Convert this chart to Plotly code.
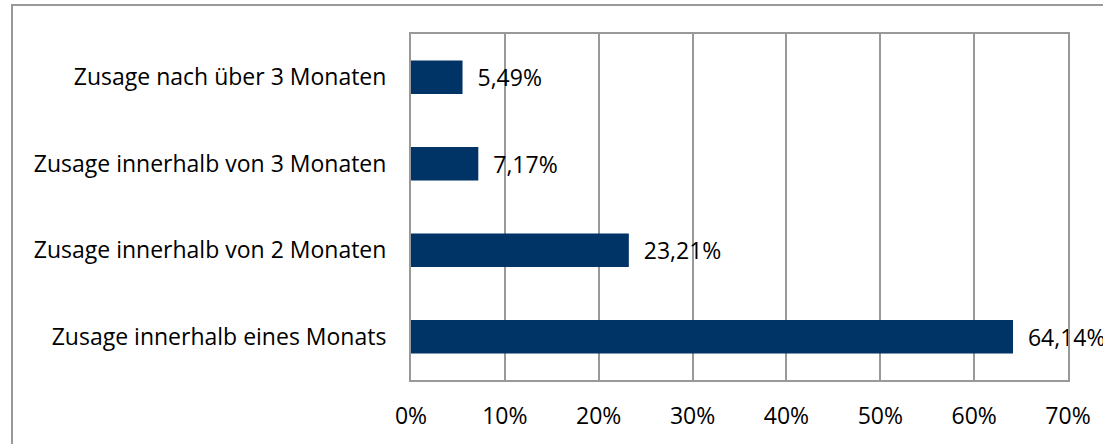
import plotly.graph_objects as go

categories = [
    "Zusage innerhalb eines Monats",
    "Zusage innerhalb von 2 Monaten",
    "Zusage innerhalb von 3 Monaten",
    "Zusage nach über 3 Monaten",
]
values = [64.14, 23.21, 7.17, 5.49]
tick_vals = [0, 10, 20, 30, 40, 50, 60, 70]
tick_text = ["0%", "10%", "20%", "30%", "40%", "50%", "60%", "70%"]

FONT = "Open Sans"
FS = 23
W, H = 1103, 444
L, R, T, B = 411, 1068, 34, 380
pw, ph = R - L, B - T

fig = go.Figure(go.Bar(
    y=categories, x=values, orientation="h",
    marker=dict(color="#003366", line=dict(width=0)),
    width=0.39,
    text=[f"  {v:.2f}%".replace(".", ",") for v in values],
    textposition="outside", cliponaxis=False,
    textfont=dict(family=FONT, size=FS, color="#000000"),
    hoverinfo="skip",
))

fig.update_layout(
    width=W, height=H,
    margin=dict(l=L, r=W - R, t=T, b=H - B, pad=0),
    paper_bgcolor="white", plot_bgcolor="white",
    showlegend=False,
    font=dict(family=FONT, size=FS, color="#000000"),
    xaxis=dict(range=[0, 70], tickvals=tick_vals, ticktext=tick_text,
               showgrid=True, gridcolor="#999999", gridwidth=1.5,
               zeroline=False, showline=True, linecolor="#999999", linewidth=2,
               mirror=True, ticks="", ticklabelstandoff=14,
               tickfont=dict(family=FONT, size=FS)),
    yaxis=dict(showgrid=False, zeroline=False, showline=True,
               linecolor="#999999", linewidth=2, mirror=True,
               ticks="", ticklabelstandoff=18,
               tickfont=dict(family=FONT, size=FS)),
    bargap=0.61,
)

# outer chart border
fig.add_shape(type="rect", xref="paper", yref="paper",
              x0=(12 - L) / pw, x1=(W + 20 - L) / pw,
              y0=-(H + 20 - B) / ph, y1=1 + (T - 5) / ph,
              line=dict(color="#999999", width=2), layer="below")

fig.write_html("out.html",
               config={"displayModeBar": False},
               post_script="document.body.style.margin='0';")
